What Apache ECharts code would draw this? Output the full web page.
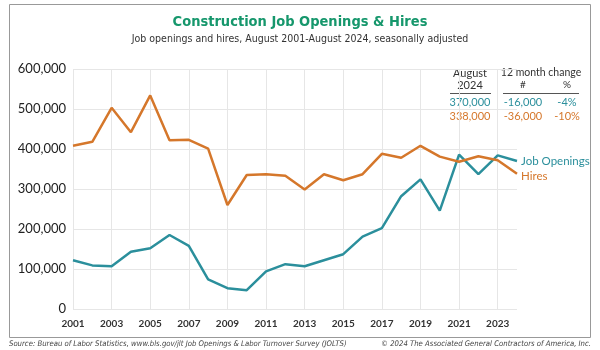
<!DOCTYPE html>
<html>
<head>
<meta charset="utf-8">
<script src="https://cdn.jsdelivr.net/npm/echarts@6/dist/echarts.min.js"></script>
<style>
  html, body { margin: 0; padding: 0; background: #fff; }
  #chart { width: 600px; height: 350px; }
</style>
</head>
<body>
<div id="chart"></div>
<script>
// data (Aug of each year)
var years = ['2001', '2002', '2003', '2004', '2005', '2006', '2007', '2008', '2009', '2010', '2011', '2012',
    '2013', '2014', '2015', '2016', '2017', '2018', '2019', '2020', '2021', '2022', '2023', '2024'];
var jobOpenings = [122000, 109000, 107000, 143000, 152000, 185000, 158000, 74000, 52000, 47000, 94000, 112000,
    107000, 122000, 137000, 181000, 202000, 282000, 324000, 246000, 386000, 337000, 384000, 370000];
var hires = [408000, 418000, 503000, 442000, 534000, 422000, 423000, 401000, 260000, 335000, 337000, 333000,
    299000, 337000, 322000, 337000, 388000, 378000, 408000, 381000, 368000, 382000, 372000, 338000];

// table at top right
var tableHead = ['August', '2024', '12 month change', '#', '%'];
var openingsRow = ['370,000', '-16,000', '-4%'];
var hiresRow = ['338,000', '-36,000', '-10%'];

var teal = '#2b8f9c';
var orange = '#d5772b';
var narrow = "'DejaVu Sans Condensed', 'Liberation Sans Narrow', sans-serif";

(function () {
    var myChart = echarts.init(document.getElementById('chart'));

    function fmt(v) {
        return v.toString().replace(/\B(?=(\d{3})+(?!\d))/g, ',');
    }

    function txt(x, y, s, color, size) {
        return {
            type: 'text', x: x, y: y,
            style: {
                text: s, fill: color, align: 'center', verticalAlign: 'middle',
                fontFamily: 'Lato', fontSize: size || 11
            }
        };
    }

    var option = {
        backgroundColor: '#fff',
        animation: false,
        title: {
            text: 'Construction Job Openings & Hires',
            subtext: 'Job openings and hires, August 2001-August 2024, seasonally adjusted',
            left: 'center',
            top: 10,
            itemGap: 4,
            textStyle: {
                fontFamily: narrow,
                fontWeight: 'bold',
                fontSize: 14.5,
                color: '#16976c'
            },
            subtextStyle: {
                fontFamily: narrow,
                fontSize: 10.5,
                color: '#333'
            }
        },
        grid: {
            left: 73,
            right: 83,
            top: 69,
            bottom: 41
        },
        xAxis: {
            type: 'category',
            data: years,
            boundaryGap: false,
            axisLine: { show: false },
            axisTick: { show: false },
            axisLabel: {
                interval: 1,
                color: '#333',
                fontFamily: 'Lato',
                fontWeight: 'bold',
                fontSize: 10,
                margin: 10
            },
            splitLine: {
                show: true,
                interval: 1,
                lineStyle: { color: '#e6e6e6' }
            }
        },
        yAxis: {
            type: 'value',
            min: 0,
            max: 600000,
            interval: 100000,
            axisLine: { show: false },
            axisTick: { show: false },
            axisLabel: {
                color: '#222',
                fontFamily: 'Lato',
                fontSize: 13,
                margin: 7,
                formatter: fmt
            },
            splitLine: { lineStyle: { color: '#e6e6e6' } }
        },
        series: [
            {
                name: 'Job Openings',
                type: 'line',
                data: jobOpenings,
                symbol: 'none',
                lineStyle: { color: teal, width: 2.5 },
                itemStyle: { color: teal },
                endLabel: {
                    show: true,
                    formatter: '{a}',
                    color: teal,
                    fontFamily: 'Lato',
                    fontSize: 11.5,
                    distance: 4
                }
            },
            {
                name: 'Hires',
                type: 'line',
                data: hires,
                symbol: 'none',
                lineStyle: { color: orange, width: 2.5 },
                itemStyle: { color: orange },
                endLabel: {
                    show: true,
                    formatter: '{a}',
                    color: orange,
                    fontFamily: 'Lato',
                    fontSize: 11.5,
                    distance: 4,
                    offset: [0, 2]
                }
            }
        ],
        graphic: [
            // outer frame
            {
                type: 'rect',
                shape: { x: 9.5, y: 4.5, width: 581, height: 333 },
                style: { fill: 'none', stroke: '#999', lineWidth: 1 }
            },
            txt(470, 73, tableHead[0], '#333'),
            txt(470, 85, tableHead[1], '#333'),
            txt(541, 73, tableHead[2], '#333', 10.5),
            txt(523, 85, tableHead[3], '#333', 10),
            txt(567, 85, tableHead[4], '#333', 10),
            {
                type: 'line',
                shape: { x1: 450, y1: 93.5, x2: 491, y2: 93.5 },
                style: { stroke: '#555', lineWidth: 1 }
            },
            {
                type: 'line',
                shape: { x1: 503, y1: 93.5, x2: 579, y2: 93.5 },
                style: { stroke: '#555', lineWidth: 1 }
            },
            txt(470, 102, openingsRow[0], teal),
            txt(523, 102, openingsRow[1], teal),
            txt(567, 102, openingsRow[2], teal),
            txt(470, 116, hiresRow[0], orange),
            txt(523, 116, hiresRow[1], orange),
            txt(567, 116, hiresRow[2], orange),
            // footer
            {
                type: 'text', x: 9, y: 344,
                style: {
                    text: 'Source: Bureau of Labor Statistics, www.bls.gov/jlt Job Openings & Labor Turnover Survey (JOLTS)',
                    fill: '#444', fontFamily: narrow, fontStyle: 'italic', fontSize: 7.7,
                    verticalAlign: 'middle'
                }
            },
            {
                type: 'text', x: 591, y: 344,
                style: {
                    text: '\u00a9 2024 The Associated General Contractors of America, Inc.',
                    fill: '#444', fontFamily: narrow, fontStyle: 'italic', fontSize: 7.7,
                    align: 'right', verticalAlign: 'middle'
                }
            }
        ]
    };

    myChart.setOption(option);
    window.addEventListener('resize', function () {
        myChart.resize();
    });
})();
</script>
</body>
</html>
